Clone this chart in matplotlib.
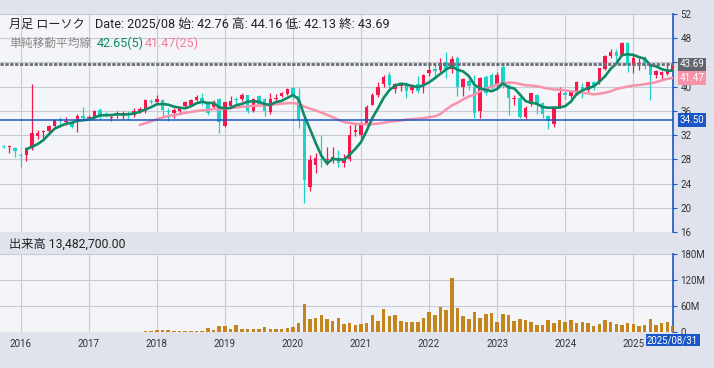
import numpy as np
import pandas as pd
import matplotlib
matplotlib.use('Agg')
import matplotlib.pyplot as plt
from matplotlib.ticker import MultipleLocator, FuncFormatter

plt.rcParams['font.family'] = ['Roboto', 'Noto Sans CJK JP', 'DejaVu Sans']

# monthly candles, Oct 2015 .. Aug 2025
months = pd.date_range('2015-10-01', '2025-08-01', freq='MS')

opens = [30.2, 30.1, 29.9, 28.7, 28.7, 29.8, 31.9, 32.5, 32.6, 33.5,
         34.6, 34.2, 33.95, 34.1, 35.2, 34.8, 34.8, 36.1, 35.5, 34.8,
         35.5, 35.5, 35.7, 35.3, 36.0, 35.9, 37.6, 37.4, 37.8, 36.0,
         35.6, 35.9, 36.8, 37.0, 37.8, 38.2, 37.5, 36.6, 37.9, 33.5,
         36.8, 38.0, 37.9, 38.6, 36.0, 38.5, 37.9, 35.8, 37.9, 38.5,
         38.8, 39.7, 38.4, 34.5, 23.5, 27.1, 28.1, 27.9, 27.9, 28.3,
         27.4, 28.0, 32.5, 32.0, 33.9, 37.0, 38.6, 40.4, 41.9, 39.6,
         40.2, 40.5, 39.4, 40.4, 40.1, 42.2, 42.8, 42.7, 44.0, 42.9,
         44.7, 40.0, 41.0, 40.0, 36.0, 41.6, 41.9, 40.1, 43.3, 40.3,
         38.0, 38.2, 35.0, 37.2, 38.6, 37.3, 35.2, 33.8, 36.7, 39.0,
         38.4, 38.9, 40.0, 39.5, 40.8, 41.0, 43.0, 45.0, 45.7, 45.3,
         47.2, 43.6, 43.8, 44.5, 43.6, 41.9, 42.0, 42.1, 42.76]
highs = [30.3, 30.3, 30.0, 29.0, 30.0, 40.5, 32.9, 32.8, 33.7, 34.6,
         35.0, 35.0, 34.2, 35.5, 36.6, 35.3, 36.1, 36.5, 35.8, 35.1,
         36.0, 36.0, 35.9, 36.4, 36.6, 37.9, 38.0, 38.6, 38.0, 36.4,
         36.5, 36.6, 37.6, 37.9, 38.7, 38.9, 37.6, 37.8, 38.1, 37.7,
         38.4, 38.3, 39.0, 38.7, 38.2, 38.6, 38.1, 38.9, 38.8, 39.2,
         39.8, 39.9, 39.7, 34.8, 28.7, 29.0, 32.1, 30.0, 30.0, 29.6,
         28.9, 33.7, 33.9, 34.3, 37.0, 39.0, 40.8, 42.0, 42.5, 40.6,
         40.5, 40.7, 40.5, 41.7, 42.1, 44.1, 43.6, 44.7, 45.8, 45.0,
         45.1, 41.5, 41.3, 41.9, 41.6, 42.0, 42.2, 42.5, 43.9, 40.5,
         38.6, 38.3, 36.8, 39.0, 38.8, 37.5, 35.4, 36.8, 40.0, 39.5,
         39.3, 40.9, 40.6, 41.0, 41.0, 43.1, 45.3, 46.2, 46.2, 47.4,
         47.3, 45.2, 44.7, 45.0, 43.8, 42.8, 42.6, 43.9, 44.16]
lows = [29.9, 29.0, 28.4, 26.7, 27.8, 29.6, 31.3, 31.6, 32.4, 33.4,
        33.8, 33.7, 33.2, 32.5, 34.5, 34.5, 34.6, 34.7, 35.0, 34.3,
        34.8, 34.6, 34.5, 35.0, 35.6, 35.7, 37.1, 37.2, 35.0, 34.4,
        34.9, 35.5, 36.7, 36.8, 37.6, 37.0, 35.3, 36.3, 32.3, 33.3,
        36.6, 37.0, 37.6, 35.7, 35.8, 36.9, 35.1, 35.5, 37.3, 38.3,
        38.6, 38.0, 33.1, 20.85, 22.7, 25.7, 26.8, 27.1, 27.4, 26.8,
        26.8, 27.8, 31.9, 31.6, 33.6, 36.9, 38.3, 40.0, 39.7, 38.9,
        39.3, 38.2, 38.9, 39.0, 38.9, 41.8, 41.2, 42.5, 41.4, 42.2,
        38.4, 38.5, 39.5, 34.9, 34.8, 38.6, 39.6, 39.6, 39.8, 35.3,
        37.0, 34.8, 34.6, 36.8, 35.5, 34.8, 33.0, 33.4, 36.5, 37.9,
        38.2, 38.7, 38.2, 39.2, 39.5, 40.5, 42.8, 44.7, 44.2, 45.0,
        42.5, 42.3, 42.8, 43.0, 37.8, 41.5, 41.3, 42.0, 42.13]
closes = [30.1, 30.25, 29.4, 28.6, 29.9, 32.3, 32.4, 32.7, 33.5, 34.5,
          34.4, 34.35, 33.4, 35.2, 34.9, 35.0, 36.0, 35.2, 35.4, 34.95,
          35.7, 35.7, 35.5, 36.0, 36.3, 37.8, 37.45, 38.0, 36.1, 35.8,
          36.2, 36.6, 37.4, 37.8, 38.3, 37.4, 35.6, 37.5, 34.1, 37.5,
          37.7, 37.9, 38.6, 35.9, 37.9, 37.2, 36.0, 38.0, 38.2, 38.9,
          39.6, 38.4, 34.5, 24.6, 27.9, 28.2, 27.9, 28.0, 28.4, 27.4,
          28.0, 32.0, 32.9, 34.0, 36.7, 38.6, 40.0, 41.6, 40.2, 40.4,
          40.3, 39.3, 40.3, 39.3, 41.9, 42.8, 42.7, 43.9, 42.9, 44.5,
          40.0, 41.3, 40.1, 35.6, 41.5, 39.0, 40.0, 42.0, 40.3, 38.1,
          38.2, 35.0, 36.5, 38.9, 37.3, 35.5, 34.4, 36.6, 38.9, 38.6,
          39.1, 40.7, 39.6, 40.7, 40.1, 43.0, 45.1, 45.8, 45.0, 47.2,
          43.6, 44.7, 43.9, 43.7, 41.9, 42.6, 42.4, 42.66, 43.69]

# volume in millions of shares, from Nov 2017
vol_start = '2017-11-01'
volume_m = [2.3, 2.3, 4.6, 4.6, 4.6, 2.3, 2.3, 2.3, 2.3, 2.3,
            2.3, 9.3, 4.6, 14.0, 14.0, 7.0, 16.2, 7.0, 7.0, 7.0,
            7.0, 11.6, 7.0, 7.0, 7.0, 9.3, 11.6, 20.8, 64.8, 30.1,
            32.4, 39.4, 30.1, 25.5, 32.4, 18.5, 20.8, 16.2, 18.5, 20.8,
            39.4, 25.5, 53.3, 37.8, 39.4, 25.5, 23.2, 23.2, 23.2, 32.4,
            46.3, 39.4, 57.9, 51.0, 125.0, 55.6, 37.0, 30.1, 47.0, 32.4,
            41.7, 44.0, 23.2, 41.7, 39.4, 25.5, 30.1, 27.8, 23.2, 16.2,
            16.2, 27.8, 20.8, 27.8, 23.2, 27.8, 20.8, 23.2, 20.8, 13.9,
            18.5, 27.8, 23.2, 18.5, 16.2, 20.8, 18.5, 13.9, 16.2, 30.1,
            16.2, 20.8, 23.2, 13.4827]

ref_line = 34.50

BAND = '#e1e3ec'
PANEL = '#f4f5f8'
GRID = '#c9cad9'
UP = '#f8174c'
DOWN = '#1ed2c8'
GREEN = '#0e8a66'
PINK = '#f792aa'
BLUE = '#1a56c6'
VOLC = '#c4851f'
TAGGRAY = '#63666e'

o, h, l, c = (np.array(a, dtype=float) for a in (opens, highs, lows, closes))
x = np.arange(len(months))
up = c >= o
ma5 = pd.Series(c).rolling(5).mean()
ma25 = pd.Series(c).rolling(25).mean()

vstart = months.get_loc(pd.Timestamp(vol_start))
vx = x[vstart:vstart + len(volume_m)]

W, H = 714, 368
fig = plt.figure(figsize=(W / 100, H / 100), dpi=100, facecolor=BAND)
fx = lambda px: px / W
fy = lambda py: 1 - py / H

ax = fig.add_axes([0, fy(232), fx(673.3), fy(14) - fy(232)])
axv = fig.add_axes([0, fy(332), fx(673.3), fy(254) - fy(332)], sharex=ax)

for a in (ax, axv):
    a.set_facecolor(PANEL)
    a.grid(True, color=GRID, lw=0.8)
    a.set_axisbelow(True)
    for s in ('left', 'top', 'bottom'):
        a.spines[s].set_visible(False)
    a.spines['right'].set_color(BLUE)
    a.spines['right'].set_linewidth(1.2)
    a.yaxis.tick_right()
    a.tick_params(axis='y', length=3, width=0.8, color=BLUE, labelsize=7,
                  labelcolor='#333333', pad=2)

# candles
col = np.where(up, UP, DOWN)
body = np.abs(c - o)
bh = np.maximum(body, 0.17)
bl = np.minimum(o, c) - (bh - body) / 2
ax.vlines(x, l, h, colors=col, lw=0.9, zorder=2)
ax.bar(x, bh, bottom=bl, width=0.62, color=col, linewidth=0, zorder=3)

ax.plot(x, ma25, color=PINK, lw=1.8, zorder=4, solid_capstyle='round')
ax.plot(x, ma5, color=GREEN, lw=1.9, zorder=5, solid_capstyle='round')

ax.axhline(c[-1], color='#6b6e76', lw=2, dashes=(1.2, 0.55), zorder=6)
ax.axhline(ref_line, color=BLUE, lw=1.1, zorder=6)

ax.set_ylim(16, 52)
ax.yaxis.set_major_locator(MultipleLocator(4))
ax.set_xlim(-0.65, 118.05)
ax.tick_params(axis='x', length=0, labelbottom=False)


def tag(y, text, fc):
    ax.text(1.009, y, text, transform=ax.get_yaxis_transform(), ha='left',
            va='center', fontsize=7, color='white', zorder=10, clip_on=False,
            bbox=dict(boxstyle='square,pad=0.18', fc=fc, ec='none'))


tag(c[-1], f'{c[-1]:.2f}', TAGGRAY)
tag(ma25.iloc[-1], f'{ma25.iloc[-1]:.2f}', PINK)
tag(ref_line, f'{ref_line:.2f}', BLUE)

# volume
axv.bar(vx, volume_m, width=0.62, color=VOLC, linewidth=0, zorder=3)
axv.set_ylim(0, 180)
axv.yaxis.set_major_locator(MultipleLocator(60))
axv.yaxis.set_major_formatter(FuncFormatter(lambda v, p: '0' if v == 0 else f'{v:.0f}M'))
jan = x[months.month == 1]
axv.set_xticks(jan)
axv.set_xticklabels([str(months[i].year) for i in jan])
axv.tick_params(axis='x', length=0, pad=5, labelsize=7, labelcolor='#333333')

# header texts
last = months[-1]
fig.text(fx(9), fy(24), '月足 ローソク', fontsize=8.7, color='#222222', va='center')
fig.text(fx(95), fy(24),
         f'Date: {last:%Y/%m} 始: {o[-1]:.2f} 高: {h[-1]:.2f} 低: {l[-1]:.2f} 終: {c[-1]:.2f}',
         fontsize=9.1, color='#222222', va='center')
fig.text(fx(9), fy(43), '単純移動平均線', fontsize=8.5, color='#8a8a8a', va='center')
fig.text(fx(97), fy(43), f'{ma5.iloc[-1]:.2f}(5)', fontsize=9, color=GREEN, va='center')
fig.text(fx(145), fy(43), f'{ma25.iloc[-1]:.2f}(25)', fontsize=9, color='#f57c9c', va='center')
fig.text(fx(9), fy(244), f'出来高 {volume_m[-1] * 1e6:,.2f}', fontsize=8.8,
         color='#222222', va='center')
fig.text(fx(672.5), fy(340), f'{last:%Y/%m}/31', fontsize=6.9, color='white',
         ha='center', va='center',
         bbox=dict(boxstyle='square,pad=0.15', fc=BLUE, ec='none'))

fig.savefig('out.png', dpi=100, facecolor=BAND)
